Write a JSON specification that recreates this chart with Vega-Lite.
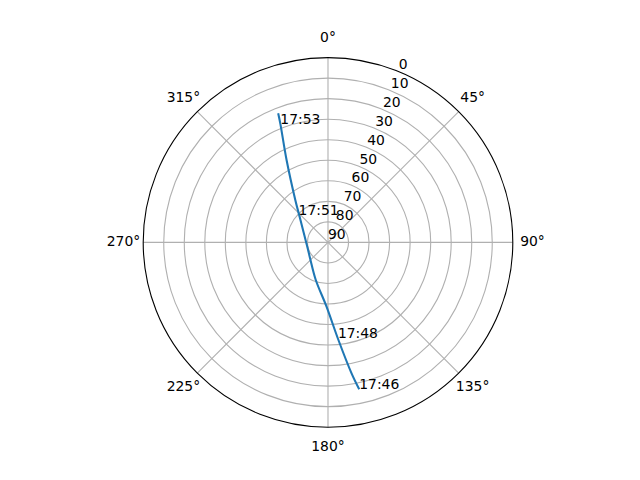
{
  "$schema": "https://vega.github.io/schema/vega-lite/v6.json",
  "width": 640,
  "height": 480,
  "autosize": "none",
  "padding": 0,
  "background": "white",
  "config": {
    "view": {"stroke": null},
    "font": "DejaVu Sans",
    "text": {"font": "DejaVu Sans", "fontSize": 13.9, "color": "black"}
  },
  "layer": [
    {
      "data": {"values": [
        {"el": 80}, {"el": 70}, {"el": 60}, {"el": 50},
        {"el": 40}, {"el": 30}, {"el": 20}, {"el": 10}
      ]},
      "transform": [
        {"calculate": "90 - datum.el", "as": "zd"},
        {"calculate": "0", "as": "cx"},
        {"calculate": "0", "as": "cy"}
      ],
      "mark": {"type": "arc", "theta": 0, "theta2": 6.2832, "filled": false, "stroke": "#b0b0b0", "strokeWidth": 1.1},
      "encoding": {
        "x": {"field": "cx", "type": "quantitative", "scale": {"domain": [-159.74, 151.95], "nice": false, "zero": false}, "axis": null},
        "y": {"field": "cy", "type": "quantitative", "scale": {"domain": [-115.71, 118.05], "nice": false, "zero": false}, "axis": null},
        "radius": {"field": "zd", "type": "quantitative", "stack": null, "scale": {"type": "linear", "domain": [0, 90], "range": [0, 184.8], "zero": true}}
      }
    },
    {
      "data": {"values": [
        {"az": 0}, {"az": 45}, {"az": 90}, {"az": 135},
        {"az": 180}, {"az": 225}, {"az": 270}, {"az": 315}
      ]},
      "transform": [
        {"calculate": "0", "as": "cx"},
        {"calculate": "0", "as": "cy"},
        {"calculate": "90 * sin(datum.az * PI / 180)", "as": "ex"},
        {"calculate": "90 * cos(datum.az * PI / 180)", "as": "ey"}
      ],
      "mark": {"type": "rule", "color": "#b0b0b0", "strokeWidth": 1.1},
      "encoding": {
        "x": {"field": "cx", "type": "quantitative", "scale": {"domain": [-159.74, 151.95], "nice": false, "zero": false}, "axis": null},
        "y": {"field": "cy", "type": "quantitative", "scale": {"domain": [-115.71, 118.05], "nice": false, "zero": false}, "axis": null},
        "x2": {"field": "ex"},
        "y2": {"field": "ey"}
      }
    },
    {
      "data": {"values": [{"el": 0}]},
      "transform": [
        {"calculate": "90 - datum.el", "as": "zd"},
        {"calculate": "0", "as": "cx"},
        {"calculate": "0", "as": "cy"}
      ],
      "mark": {"type": "arc", "theta": 0, "theta2": 6.2832, "filled": false, "stroke": "black", "strokeWidth": 1.1},
      "encoding": {
        "x": {"field": "cx", "type": "quantitative", "scale": {"domain": [-159.74, 151.95], "nice": false, "zero": false}, "axis": null},
        "y": {"field": "cy", "type": "quantitative", "scale": {"domain": [-115.71, 118.05], "nice": false, "zero": false}, "axis": null},
        "radius": {"field": "zd", "type": "quantitative", "stack": null, "scale": {"type": "linear", "domain": [0, 90], "range": [0, 184.8], "zero": true}}
      }
    },
    {
      "data": {"values": [
        {"el": 0}, {"el": 10}, {"el": 20}, {"el": 30}, {"el": 40},
        {"el": 50}, {"el": 60}, {"el": 70}, {"el": 80}, {"el": 90}
      ]},
      "transform": [
        {"calculate": "90 - datum.el", "as": "zd"},
        {"calculate": "datum.zd * sin(22.5 * PI / 180)", "as": "px"},
        {"calculate": "datum.zd * cos(22.5 * PI / 180)", "as": "py"}
      ],
      "mark": {"type": "text", "align": "left", "baseline": "bottom"},
      "encoding": {
        "x": {"field": "px", "type": "quantitative", "scale": {"domain": [-159.74, 151.95], "nice": false, "zero": false}, "axis": null},
        "y": {"field": "py", "type": "quantitative", "scale": {"domain": [-115.71, 118.05], "nice": false, "zero": false}, "axis": null},
        "text": {"field": "el", "type": "nominal"}
      }
    },
    {
      "data": {"values": [
        {"az": 0, "label": "0°"}, {"az": 45, "label": "45°"},
        {"az": 90, "label": "90°"}, {"az": 135, "label": "135°"},
        {"az": 180, "label": "180°"}, {"az": 225, "label": "225°"},
        {"az": 270, "label": "270°"}, {"az": 315, "label": "315°"}
      ]},
      "transform": [
        {"calculate": "99.6 * sin(datum.az * PI / 180)", "as": "px"},
        {"calculate": "99.6 * cos(datum.az * PI / 180)", "as": "py"}
      ],
      "mark": {"type": "text", "align": "center", "baseline": "middle"},
      "encoding": {
        "x": {"field": "px", "type": "quantitative", "scale": {"domain": [-159.74, 151.95], "nice": false, "zero": false}, "axis": null},
        "y": {"field": "py", "type": "quantitative", "scale": {"domain": [-115.71, 118.05], "nice": false, "zero": false}, "axis": null},
        "text": {"field": "label", "type": "nominal"}
      }
    },
    {
      "data": {"values": [
        {"i": 1, "az": 168.0, "el": 16.85},
        {"i": 2, "az": 169.8, "el": 25.2},
        {"i": 3, "az": 173.9, "el": 42.2},
        {"i": 4, "az": 181.3, "el": 58.7},
        {"i": 5, "az": 198.0, "el": 70.75},
        {"i": 6, "az": 224.8, "el": 77.9},
        {"i": 7, "az": 255.4, "el": 79.7},
        {"i": 8, "az": 309.2, "el": 72.7},
        {"i": 9, "az": 322.4, "el": 63.9},
        {"i": 10, "az": 333.3, "el": 45.1},
        {"i": 11, "az": 338.1, "el": 27.8},
        {"i": 12, "az": 338.9, "el": 22.6}
      ]},
      "transform": [
        {"calculate": "90 - datum.el", "as": "zd"},
        {"calculate": "datum.zd * sin(datum.az * PI / 180)", "as": "px"},
        {"calculate": "datum.zd * cos(datum.az * PI / 180)", "as": "py"}
      ],
      "mark": {"type": "line", "color": "#1f77b4", "strokeWidth": 2.08, "interpolate": "catmull-rom"},
      "encoding": {
        "x": {"field": "px", "type": "quantitative", "scale": {"domain": [-159.74, 151.95], "nice": false, "zero": false}, "axis": null},
        "y": {"field": "py", "type": "quantitative", "scale": {"domain": [-115.71, 118.05], "nice": false, "zero": false}, "axis": null},
        "order": {"field": "i", "type": "quantitative"}
      }
    },
    {
      "data": {"values": [
        {"az": 168.0, "el": 16.85, "label": "17:46"},
        {"az": 174.1, "el": 43.05, "label": "17:48"},
        {"az": 313.0, "el": 70.4, "label": "17:51"},
        {"az": 338.1, "el": 27.8, "label": "17:53"}
      ]},
      "transform": [
        {"calculate": "90 - datum.el", "as": "zd"},
        {"calculate": "datum.zd * sin(datum.az * PI / 180)", "as": "px"},
        {"calculate": "datum.zd * cos(datum.az * PI / 180)", "as": "py"}
      ],
      "mark": {"type": "text", "align": "left", "baseline": "alphabetic"},
      "encoding": {
        "x": {"field": "px", "type": "quantitative", "scale": {"domain": [-159.74, 151.95], "nice": false, "zero": false}, "axis": null},
        "y": {"field": "py", "type": "quantitative", "scale": {"domain": [-115.71, 118.05], "nice": false, "zero": false}, "axis": null},
        "text": {"field": "label", "type": "nominal"}
      }
    }
  ]
}
